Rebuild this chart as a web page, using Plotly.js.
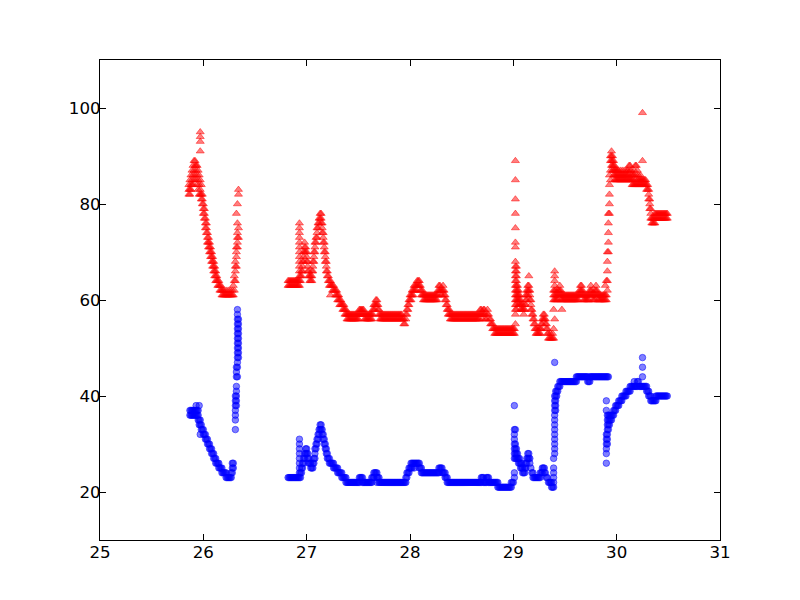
<!DOCTYPE html>
<html>
<head>
<meta charset="utf-8">
<script src="https://cdn.plot.ly/plotly-3.0.1.min.js"></script>
<style>html,body{margin:0;padding:0;background:#fff;}#chart{width:800px;height:600px;}</style>
</head>
<body>
<div id="chart"></div>
<script>
// Each row: [x, y1, y2, ...] = every value read at that x.
// Red series (triangles)
const redA = [[25.86,82,83,84],[25.87,82,83,85],[25.88,83,84,86],[25.89,84,85,87],[25.90,84,86,88],[25.91,85,87,89],[25.92,86,88,89],[25.93,85,87,88],[25.94,84,86,88],[25.95,83,85,87],[25.96,82,84,86],[25.97,82,83,85,91,93,94,95],[25.98,81,82,84],[25.99,80,81,82],[26.00,78,79,80],[26.01,77,78,79],[26.02,75,76,77],[26.03,74,75,76],[26.04,72,73,74],[26.05,71,72,73],[26.06,70,71,72],[26.07,69,70,71],[26.08,68,69,70],[26.09,67,68,69],[26.10,66,67,68],[26.11,65,66,67],[26.12,64,65,66],[26.13,64,65],[26.14,63,64],[26.15,63,64],[26.16,62,63],[26.17,62,63],[26.18,61,62],[26.19,61,62],[26.20,61,62],[26.21,61],[26.22,61,62],[26.23,61],[26.24,61,62],[26.25,61],[26.26,61,62],[26.27,61],[26.28,61,62],[26.29,61,63],[26.30,62,64,65],[26.31,64,66,67,68],[26.32,67,69,70,71,78],[26.33,71,72,73,74,76,80],[26.34,73,75,82,83]];
const redB = [[26.82,63,64],[26.83,63,64],[26.84,63,64],[26.85,63,64],[26.86,63,64],[26.87,63,64],[26.88,63,64],[26.89,63,64],[26.90,63,64],[26.91,63,64],[26.92,63,64],[26.93,63,64,65,66,67,68,69,70,71,72,73,74,75,76],[26.94,64,65],[26.95,65,66],[26.96,66,67,68],[26.97,68,69,70],[26.98,70,71,72],[26.99,70,71],[27.00,68,69,70],[27.01,66,67,68],[27.02,65,66],[27.03,64,65],[27.04,64,65],[27.05,64,65,66],[27.06,66,67,68],[27.07,68,69,70],[27.08,70,71,72],[27.09,72,73],[27.10,73,74,75],[27.11,75,76],[27.12,76,77],[27.13,77,78],[27.14,76,77,78],[27.15,74,75,76],[27.16,72,73,74],[27.17,70,71,72],[27.18,68,69,70],[27.19,66,67,68],[27.20,65,66],[27.21,64,65],[27.22,63,64],[27.23,61,63,64],[27.24,63],[27.25,62,63],[27.26,62,63],[27.27,62],[27.28,61,62],[27.29,61,62],[27.30,60,61],[27.31,60,61],[27.32,59,60],[27.33,59,60],[27.34,59],[27.35,58,59],[27.36,58,59],[27.37,57,58],[27.38,57,58],[27.39,56,57],[27.40,56,57],[27.41,56,57],[27.42,56,57],[27.43,56,57],[27.44,56,57],[27.45,56,57],[27.46,56,57],[27.47,56,57],[27.48,56,57],[27.49,56,57],[27.50,56,57],[27.51,57,58],[27.52,57,58],[27.53,57,58],[27.54,57,58],[27.55,57,58],[27.56,56,57],[27.57,56,57],[27.58,56,57],[27.59,56,57],[27.60,56,57],[27.61,56,57],[27.62,56,57],[27.63,56,57],[27.64,57,58],[27.65,58,59],[27.66,58,59],[27.67,59,60],[27.68,59,60],[27.69,58,59],[27.70,57,58],[27.71,56,57],[27.72,56,57],[27.73,56,57],[27.74,56,57],[27.75,56,57],[27.76,56,57],[27.77,56,57],[27.78,56,57],[27.79,56,57],[27.80,56,57],[27.81,56,57],[27.82,56,57],[27.83,56,57],[27.84,56,57],[27.85,56,57],[27.86,56,57],[27.87,56,57],[27.88,56,57],[27.89,56,57],[27.90,56,57],[27.91,56,57],[27.92,56,57],[27.93,56],[27.94,55,56],[27.95,55],[27.96,56,57],[27.97,57,58],[27.98,58,59],[27.99,59,60],[28.00,60,61],[28.01,60,61],[28.02,61,62],[28.03,61,62],[28.04,62,63],[28.05,62,63],[28.06,62,63],[28.07,63,64],[28.08,63,64],[28.09,63,64],[28.10,62,63],[28.11,61,62],[28.12,61,62],[28.13,60,61],[28.14,60,61],[28.15,60,61],[28.16,60,61],[28.17,60,61],[28.18,60,61],[28.19,60,61],[28.20,60,61],[28.21,60,61],[28.22,60,61],[28.23,60,61],[28.24,60,61],[28.25,60,61],[28.26,60,61],[28.27,61,62],[28.28,62,63],[28.29,62,63],[28.30,61,62],[28.31,61,62],[28.32,62,63],[28.33,61,62],[28.34,60,61],[28.35,59,60],[28.36,58,59],[28.37,57,58],[28.38,57,58],[28.39,56,57],[28.40,56,57],[28.41,56,57],[28.42,56,57],[28.43,56,57],[28.44,56,57],[28.45,56,57],[28.46,56,57],[28.47,56,57],[28.48,56,57],[28.49,56,57],[28.50,56,57],[28.51,56,57],[28.52,56,57],[28.53,56,57],[28.54,56,57],[28.55,56,57],[28.56,56,57],[28.57,56,57],[28.58,56,57],[28.59,56,57],[28.60,56,57],[28.61,56,57],[28.62,56,57],[28.63,56,57],[28.64,56,57],[28.65,56,57],[28.66,56,57],[28.67,56,57],[28.68,57,58],[28.69,57,58],[28.70,56,57],[28.71,57,58],[28.72,57,58],[28.73,56,57],[28.74,56],[28.75,57,58],[28.76,57],[28.77,56],[28.78,55,56],[28.79,55],[28.80,54,55],[28.81,54],[28.82,53,54],[28.83,53,54],[28.84,53,54],[28.85,53,54],[28.86,53,54],[28.87,53,54],[28.88,53,54],[28.89,53,54],[28.90,53,54],[28.91,53,54],[28.92,53,54],[28.93,53,54],[28.94,53,54],[28.95,53,54],[28.96,53,54],[28.97,53,54],[28.98,53,54],[28.99,53,54],[29.00,53,54],[29.01,53,54]];
const redC = [[29.02,55,57,58,59,60,61,62,63,64,65,66,67,68,71,72,75,78,81,85,89],[29.03,58,59,60,61,62,63,64,65,66,67],[29.04,60,61,62,63],[29.05,59,60,61,62],[29.06,59,60,61],[29.07,58,59,60],[29.08,58,59],[29.09,58,59],[29.10,57,58],[29.11,58,59],[29.12,59,60,61],[29.13,60,61,62],[29.14,61,62,63],[29.15,62,63,65],[29.16,60,61,62],[29.17,58,59,60],[29.18,57,58],[29.19,56,57],[29.20,55,56],[29.21,54,55],[29.22,53,54],[29.23,53,54],[29.24,53],[29.25,53,54],[29.26,53,54],[29.27,54,55],[29.28,55,56],[29.29,56,57],[29.30,56,57],[29.31,55,56],[29.32,54,55],[29.33,53,54],[29.34,52,53],[29.35,52],[29.36,52,53],[29.37,52],[29.38,52,53],[29.39,52,54,58,60,61,62],[29.40,56,60,61,62,63,64,65,66],[29.41,60,61,62],[29.42,60,61],[29.43,60,61,62],[29.44,61,62],[29.45,61,62,63],[29.46,60,61,62],[29.47,58,60,61],[29.48,60,61],[29.49,60,61],[29.50,60,61],[29.51,60,61],[29.52,60,61],[29.53,60,61],[29.54,60,61],[29.55,60,61],[29.56,60,61],[29.57,60,61],[29.58,60,61],[29.59,60,61],[29.60,60,61],[29.61,60,61],[29.62,60,61],[29.63,60,61],[29.64,61,62],[29.65,61,62,63],[29.66,61,62,63],[29.67,61,62],[29.68,60,61],[29.69,60,61],[29.70,60,61],[29.71,60,61],[29.72,60,61],[29.73,60,61],[29.74,61,62],[29.75,61,62,63],[29.76,61,62],[29.77,60,61],[29.78,60,61],[29.79,60,61,62],[29.80,61,62,63],[29.81,61,62],[29.82,60,61],[29.83,60,61],[29.84,60,61],[29.85,60,61],[29.86,60,61],[29.87,60,61],[29.88,60,61],[29.89,60,61,63],[29.90,60,61,64],[29.91,62,64,66,68,70],[29.92,70,72,74,76,78],[29.93,78,80,82,84,86],[29.94,85,87,89,90],[29.95,88,89,90,91],[29.96,87,88,89,90],[29.97,86,87,88,89],[29.98,85,86,87,88],[29.99,85,86,87],[30.00,85,86,87],[30.01,85,86,87],[30.02,85,86,87],[30.03,85,86],[30.04,85,86,87],[30.05,85,86],[30.06,85,86,87],[30.07,85,86],[30.08,85,86,87],[30.09,85,86],[30.10,85,86,87],[30.11,85,86,87],[30.12,85,86,88],[30.13,85,87,88],[30.14,85,86,87],[30.15,84,85,86],[30.16,84,85,86],[30.17,84,86,87],[30.18,84,85,88],[30.19,84,86,88],[30.20,84,85,87],[30.21,84,85,86],[30.22,84,85],[30.23,84,85,86],[30.24,84,85],[30.25,84,85,89,99],[30.26,84,85],[30.27,84,85],[30.28,84,85],[30.29,83,84],[30.30,83,84],[30.31,81,82,83],[30.32,79,80,81],[30.33,77,78,79],[30.34,76,77],[30.35,76,77],[30.36,76,77],[30.37,76,77,78],[30.38,77,78],[30.39,77,78],[30.40,77,78],[30.41,77,78],[30.42,77,78],[30.43,77,78],[30.44,77,78],[30.45,77,78],[30.46,77,78],[30.47,77,78],[30.48,77,78],[30.49,77,78]];

// Blue series (circles)
const blueA = [[25.87,36,37],[25.88,36,37],[25.89,36,37],[25.90,36,37],[25.91,36,37],[25.92,36,37],[25.93,36,37,38],[25.94,36,37],[25.95,35,36,37],[25.96,34,35,38],[25.97,32,34,35],[25.98,33,34],[25.99,33],[26.00,32,33],[26.01,32],[26.02,31,32],[26.03,31],[26.04,30,31],[26.05,30],[26.06,29,30],[26.07,29],[26.08,28,29],[26.09,28],[26.10,27,28],[26.11,27],[26.12,26,27],[26.13,26],[26.14,26],[26.15,25,26],[26.16,25],[26.17,25],[26.18,24,25],[26.19,24],[26.20,24],[26.21,24],[26.22,23,24],[26.23,23],[26.24,23],[26.25,23],[26.26,23],[26.27,23,24],[26.28,24,25,26],[26.29,25,26],[26.31,33,35,36,37,38,39,40],[26.32,38,39,40,41,42,44,45,46],[26.33,44,46,47,48,49,50,51,52,53,54,55,56,57,58],[26.34,48,49,50,51,52,53,54,55,56]];
const blueB = [[26.82,23],[26.83,23],[26.84,23],[26.85,23],[26.86,23],[26.87,23],[26.88,23],[26.89,23],[26.90,23],[26.91,23],[26.92,23],[26.93,23,24,25,26,27,28,29,30,31],[26.94,23,24],[26.95,24,25],[26.96,25,26],[26.97,26,27],[26.98,27,28],[26.99,28,29],[27.00,28,29],[27.01,27,28],[27.02,26,27],[27.03,26],[27.04,25,26],[27.05,25],[27.06,25,26],[27.07,26,27],[27.08,27,28,29],[27.09,29,30],[27.10,30,31],[27.11,31,32],[27.12,32,33],[27.13,33,34],[27.14,33,34],[27.15,32,33],[27.16,31,32],[27.17,30,31],[27.18,29,30],[27.19,28,29],[27.20,27,28],[27.21,27],[27.22,26,27],[27.23,26],[27.24,26],[27.25,26],[27.26,25,26],[27.27,25],[27.28,25],[27.29,25],[27.30,24,25],[27.31,24],[27.32,24],[27.33,24],[27.34,23,24],[27.35,23],[27.36,23],[27.37,23],[27.38,22,23],[27.39,22],[27.40,22],[27.41,22],[27.42,22],[27.43,22],[27.44,22],[27.45,22],[27.46,22],[27.47,22],[27.48,22],[27.49,22],[27.50,22],[27.51,22,23],[27.52,23],[27.53,23],[27.54,22,23],[27.55,22],[27.56,22],[27.57,22],[27.58,22],[27.59,22],[27.60,22],[27.61,22],[27.62,22],[27.63,22,23],[27.64,23],[27.65,23,24],[27.66,24],[27.67,24],[27.68,22,23,24],[27.69,23],[27.70,22,23],[27.71,22],[27.72,22],[27.73,22],[27.74,22],[27.75,22],[27.76,22],[27.77,22],[27.78,22],[27.79,22],[27.80,22],[27.81,22],[27.82,22],[27.83,22],[27.84,22],[27.85,22],[27.86,22],[27.87,22],[27.88,22],[27.89,22],[27.90,22],[27.91,22],[27.92,22],[27.93,22],[27.94,22],[27.95,22],[27.96,22,23],[27.97,23,24],[27.98,24],[27.99,24,25],[28.00,25],[28.01,25,26],[28.02,25,26],[28.03,26],[28.04,25,26],[28.05,26],[28.06,26],[28.07,26],[28.08,26],[28.09,25,26],[28.10,25],[28.11,24,25],[28.12,24],[28.13,24],[28.14,24],[28.15,24],[28.16,24],[28.17,24],[28.18,24],[28.19,24],[28.20,24],[28.21,24],[28.22,24],[28.23,24],[28.24,24],[28.25,24],[28.26,24],[28.27,24],[28.28,24,25],[28.29,25],[28.30,25],[28.31,24,25],[28.32,24],[28.33,24],[28.34,23,24],[28.35,23],[28.36,22,23],[28.37,22],[28.38,22],[28.39,22],[28.40,22],[28.41,22],[28.42,22],[28.43,22],[28.44,22],[28.45,22],[28.46,22],[28.47,22],[28.48,22],[28.49,22],[28.50,22],[28.51,22],[28.52,22],[28.53,22],[28.54,22],[28.55,22],[28.56,22],[28.57,22],[28.58,22],[28.59,22],[28.60,22],[28.61,22],[28.62,22],[28.63,22],[28.64,22],[28.65,22],[28.66,22],[28.67,22],[28.68,22],[28.69,22,23],[28.70,23],[28.71,22,23],[28.72,22],[28.73,22],[28.74,22,23],[28.75,23],[28.76,22,23],[28.77,22],[28.78,22],[28.79,22],[28.80,22],[28.81,22],[28.82,22],[28.83,22],[28.84,22],[28.85,21,22],[28.86,21],[28.87,21],[28.88,21],[28.89,21],[28.90,21],[28.91,21],[28.92,21],[28.93,21],[28.94,21],[28.95,21],[28.96,21],[28.97,21],[28.98,21,22],[28.99,22],[29.00,22]];
const blueC = [[29.01,23,24,27,28,29,30,31,32,33,38],[29.02,27,28,29,30,33],[29.03,27,28,29],[29.04,27,28],[29.05,26,27],[29.06,26,27],[29.07,25,26],[29.08,25,26],[29.09,24,25],[29.10,24],[29.11,24,25],[29.12,25,26],[29.13,26,27],[29.14,27,28],[29.15,27,28],[29.16,26,27],[29.17,25],[29.18,24],[29.19,23,24],[29.20,23],[29.21,23],[29.22,23],[29.23,23],[29.24,23],[29.25,23],[29.26,23,24],[29.27,24],[29.28,24,25],[29.29,25],[29.30,24,25],[29.31,24],[29.32,23],[29.33,23],[29.34,22],[29.35,22],[29.36,22],[29.37,21,22],[29.38,21],[29.39,21,22,23,24,25,27],[29.40,28,29,30,31,32,33,34,35,36,37,38,39,40,47],[29.41,37,38,39,40,41],[29.42,40,41],[29.43,41,42],[29.44,42],[29.45,42,43],[29.46,43],[29.47,43],[29.48,43],[29.49,43],[29.50,43],[29.51,43],[29.52,43],[29.53,43],[29.54,43],[29.55,43],[29.56,43],[29.57,43],[29.58,43],[29.59,43],[29.60,43],[29.61,43,44],[29.62,44],[29.63,44],[29.64,44],[29.65,44],[29.66,44],[29.67,44],[29.68,44],[29.69,44],[29.70,44],[29.71,44],[29.72,43,44],[29.73,43],[29.74,43,44],[29.75,44],[29.76,44],[29.77,44],[29.78,44],[29.79,44],[29.80,44],[29.81,44],[29.82,44],[29.83,44],[29.84,44],[29.85,44],[29.86,44],[29.87,44],[29.88,44],[29.89,44],[29.90,26,28,29,30,31,32,37,39,44],[29.91,30,31,32,33,34,35,36,44],[29.92,33,34,35,36,44],[29.93,34,35,36],[29.94,35,36],[29.95,35,36],[29.96,36],[29.97,36,37],[29.98,37],[29.99,37,38],[30.00,38],[30.01,38],[30.02,38,39],[30.03,39],[30.04,39],[30.05,39,40],[30.06,40],[30.07,40],[30.08,40],[30.09,40,41],[30.10,41],[30.11,41],[30.12,41],[30.13,41,42],[30.14,42],[30.15,42],[30.16,42],[30.17,42,43],[30.18,42],[30.19,42],[30.20,42,43],[30.21,43],[30.22,42],[30.23,42],[30.24,42],[30.25,42,44,46,48],[30.26,42],[30.27,42],[30.28,42],[30.29,41,42],[30.30,41],[30.31,40,41],[30.32,40],[30.33,39,40],[30.34,39],[30.35,39],[30.36,39],[30.37,39],[30.38,39,40],[30.39,40],[30.40,40],[30.41,40],[30.42,40],[30.43,40],[30.44,40],[30.45,40],[30.46,40],[30.47,40],[30.48,40],[30.49,40]];

const xTickVals = [25, 26, 27, 28, 29, 30, 31];
const yTickVals = [20, 40, 60, 80, 100];

function expand(rows) {
  const xs = [], ys = [];
  rows.forEach(r => { for (let i = 1; i < r.length; i++) { xs.push(r[0]); ys.push(r[i]); } });
  return {xs, ys};
}
const red = expand(redA.concat(redB, redC));
const blue = expand(blueA.concat(blueB, blueC));

const font = {family: 'DejaVu Sans, sans-serif', size: 16.67, color: '#000'};
const axisCommon = {
  showgrid: false, zeroline: false, showline: true, linecolor: '#000', linewidth: 1,
  mirror: 'allticks', ticks: 'inside', ticklen: 6, tickwidth: 1, tickcolor: '#000',
  tickfont: font, fixedrange: true
};

const traces = [
  {
    type: 'scatter', mode: 'markers', x: red.xs, y: red.ys,
    marker: {symbol: 'triangle-up', size: 7, color: 'rgba(255,0,0,0.5)', line: {color: 'rgba(255,0,0,0.5)', width: 1}},
    hoverinfo: 'skip', showlegend: false
  },
  {
    type: 'scatter', mode: 'markers', x: blue.xs, y: blue.ys,
    marker: {symbol: 'circle', size: 6.5, color: 'rgba(0,0,255,0.5)', line: {color: 'rgba(0,0,255,0.5)', width: 1}},
    hoverinfo: 'skip', showlegend: false
  }
];

const layout = {
  width: 800, height: 600,
  margin: {l: 100, r: 80, t: 60, b: 60, pad: 0},
  paper_bgcolor: '#fff', plot_bgcolor: '#fff',
  xaxis: Object.assign({}, axisCommon, {range: [25, 31], tickvals: xTickVals, ticktext: xTickVals.map(String), ticklabelstandoff: -3}),
  yaxis: Object.assign({}, axisCommon, {range: [10, 110], tickvals: yTickVals, ticktext: yTickVals.map(String), ticklabelstandoff: -5}),
  showlegend: false
};

Plotly.newPlot('chart', traces, layout, {displayModeBar: false, staticPlot: true});
</script>
</body>
</html>
